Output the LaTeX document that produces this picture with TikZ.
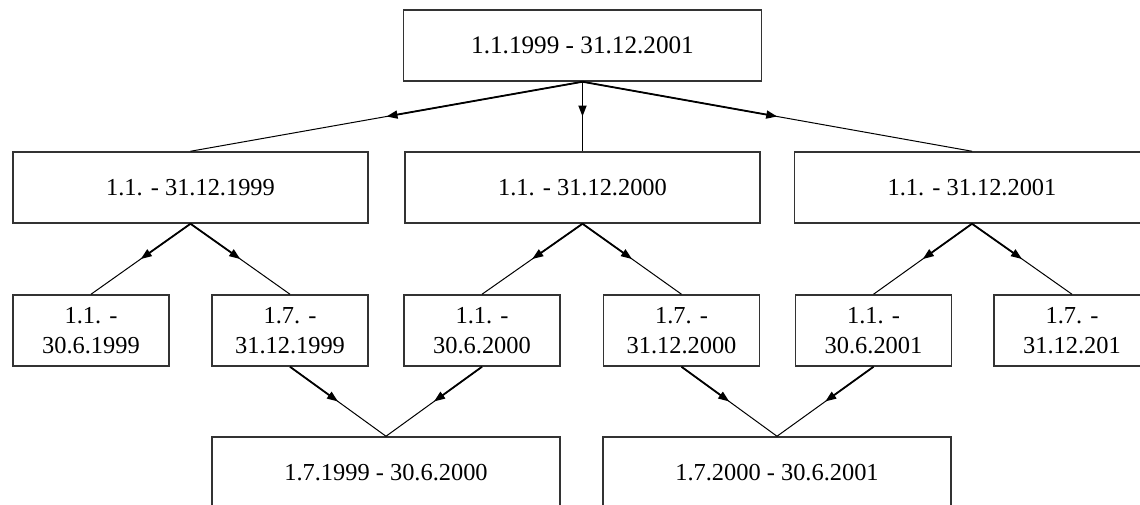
\documentclass[tikz,border=0pt]{standalone}
\usepackage{fontspec}
\setmainfont{Liberation Serif}
\usetikzlibrary{arrows.meta,calc}

\begin{document}
\begin{tikzpicture}[x=0.5pt,y=-0.5pt,
	period/.style={draw=black!80, line width=0.75pt, minimum height=35.5pt, inner sep=0pt, align=center, font=\fontsize{12.2}{15}\selectfont},
	link/.style={line width=0.5pt},
	half/.style={line width=0.9pt, -{Triangle[length=5.5pt,width=4pt]}}]
	\useasboundingbox (0,0) rectangle (1140,504);

	\node[period, minimum width=179pt, font=\fontsize{12.6}{15}\selectfont] (all) at (582.5,45.5) {1.1.1999 - 31.12.2001};

	\node[period, minimum width=177.5pt] (y1999) at (190.5,187.5) {1.1. - 31.12.1999};
	\node[period, minimum width=177.5pt] (y2000) at (582.5,187.5) {1.1. - 31.12.2000};
	\node[period, minimum width=177.5pt] (y2001) at (972,187.5) {1.1. - 31.12.2001};

	\node[period, minimum width=78pt] (h1999a) at (91,330.5) {1.1. -\\30.6.1999};
	\node[period, minimum width=78pt] (h1999b) at (290,330.5) {1.7. -\\31.12.1999};
	\node[period, minimum width=78pt] (h2000a) at (482,330.5) {1.1. -\\30.6.2000};
	\node[period, minimum width=78pt] (h2000b) at (681.5,330.5) {1.7. -\\31.12.2000};
	\node[period, minimum width=78pt] (h2001a) at (873.5,330.5) {1.1. -\\30.6.2001};
	\node[period, minimum width=78pt] (h2001b) at (1072,330.5) {1.7. -\\31.12.201};

	\node[period, minimum width=174pt] (fy2000) at (386,472.5) {1.7.1999 - 30.6.2000};
	\node[period, minimum width=174pt] (fy2001) at (777,472.5) {1.7.2000 - 30.6.2001};

	% whole span to years
	\draw[link] (all.south) -- (y1999.north);
	\draw[half] (all.south) -- ($(all.south)!0.5!(y1999.north)$);
	\draw[link] (all.south) -- (y2000.north);
	\draw[half] (all.south) -- ($(all.south)!0.5!(y2000.north)$);
	\draw[link] (all.south) -- (y2001.north);
	\draw[half] (all.south) -- ($(all.south)!0.5!(y2001.north)$);

	% years to half years
	\draw[link] (y1999.south) -- (h1999a.north);
	\draw[half] (y1999.south) -- ($(y1999.south)!0.5!(h1999a.north)$);
	\draw[link] (y1999.south) -- (h1999b.north);
	\draw[half] (y1999.south) -- ($(y1999.south)!0.5!(h1999b.north)$);
	\draw[link] (y2000.south) -- (h2000a.north);
	\draw[half] (y2000.south) -- ($(y2000.south)!0.5!(h2000a.north)$);
	\draw[link] (y2000.south) -- (h2000b.north);
	\draw[half] (y2000.south) -- ($(y2000.south)!0.5!(h2000b.north)$);
	\draw[link] (y2001.south) -- (h2001a.north);
	\draw[half] (y2001.south) -- ($(y2001.south)!0.5!(h2001a.north)$);
	\draw[link] (y2001.south) -- (h2001b.north);
	\draw[half] (y2001.south) -- ($(y2001.south)!0.5!(h2001b.north)$);

	% half years to fiscal years
	\draw[link] (h1999b.south) -- (fy2000.north);
	\draw[half] (h1999b.south) -- ($(h1999b.south)!0.5!(fy2000.north)$);
	\draw[link] (h2000a.south) -- (fy2000.north);
	\draw[half] (h2000a.south) -- ($(h2000a.south)!0.5!(fy2000.north)$);
	\draw[link] (h2000b.south) -- (fy2001.north);
	\draw[half] (h2000b.south) -- ($(h2000b.south)!0.5!(fy2001.north)$);
	\draw[link] (h2001a.south) -- (fy2001.north);
	\draw[half] (h2001a.south) -- ($(h2001a.south)!0.5!(fy2001.north)$);
\end{tikzpicture}
\end{document}
